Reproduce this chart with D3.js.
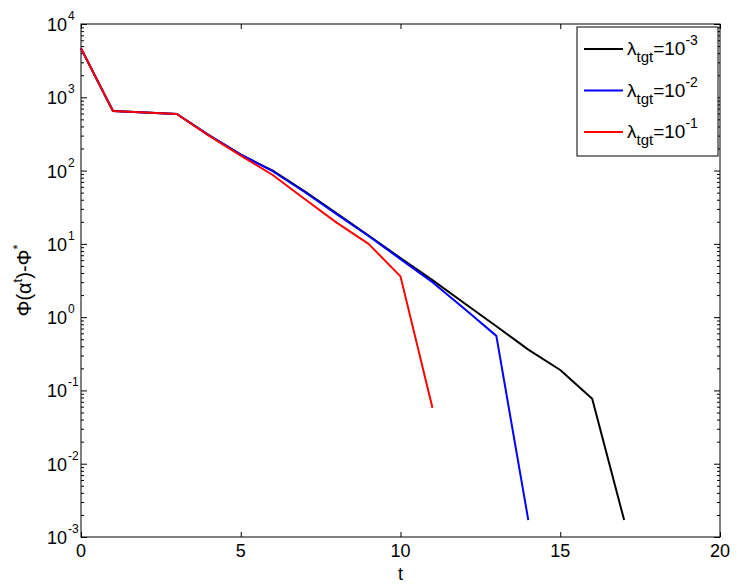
<!DOCTYPE html>
<html>
<head>
<meta charset="utf-8">
<script src="https://cdn.jsdelivr.net/npm/d3@7"></script>
<style>
  html, body { margin: 0; padding: 0; background: #fff; }
  svg { display: block; }
  text { font-family: "Liberation Sans", Arial, sans-serif; fill: #000; }
</style>
</head>
<body>
<svg id="chart" width="740" height="586"></svg>
<script>
// ---- data ----
const tBlack = [0,1,2,3,4,5,6,7,8,9,10,11,12,13,14,15,16,17];
const vBlack = [4650,650,620,592,305,165,100,52,26,13,6.4,3.2,1.55,0.75,0.36,0.19,0.077,0.0017];
const tBlue  = [0,1,2,3,4,5,6,7,8,9,10,11,12,13,14];
const vBlue  = [4650,650,620,592,305,165,98,51,25.5,12.8,6.2,3.0,1.3,0.555,0.0017];
const tRed   = [0,1,2,3,4,5,6,7,8,9,10,11];
const vRed   = [4650,650,620,592,300,160,87,41,19.5,10,3.6,0.058];
const seriesNames = ["-3","-2","-1"];
const seriesColors = ["#000000","#0000ff","#ff0000"];
const xTicks = [0,5,10,15,20];
const yExponents = [-3,-2,-1,0,1,2,3,4];

// ---- layout ----
const svg = d3.select("#chart");
const L = 81, R = 720, T = 24, B = 537;
const x = d3.scaleLinear().domain([0,20]).range([L,R]);
const y = d3.scaleLog().domain([1e-3,1e4]).range([B,T]);

const majors = yExponents.map(e => Math.pow(10,e));
const minors = [];
for (let e = -3; e < 4; e++) for (let k = 2; k <= 9; k++) minors.push(k*Math.pow(10,e));

// box
svg.append("rect").attr("x",L).attr("y",T).attr("width",R-L).attr("height",B-T)
  .attr("fill","#fff").attr("stroke","#000").attr("stroke-width",1);

function clean(g){ g.select(".domain").remove(); g.selectAll("line").attr("stroke","#000"); }

// x axis bottom & top (inward ticks)
svg.append("g").attr("transform",`translate(0,${B})`)
  .call(d3.axisBottom(x).tickValues(xTicks).tickSize(-5).tickFormat(""))
  .call(clean);
svg.append("g").attr("transform",`translate(0,${T})`)
  .call(d3.axisTop(x).tickValues(xTicks).tickSize(-5).tickFormat(""))
  .call(clean);
// y axis left & right major/minor
svg.append("g").attr("transform",`translate(${L},0)`)
  .call(d3.axisLeft(y).tickValues(majors).tickSize(-6).tickFormat("")).call(clean);
svg.append("g").attr("transform",`translate(${L},0)`)
  .call(d3.axisLeft(y).tickValues(minors).tickSize(-3).tickFormat("")).call(clean);
svg.append("g").attr("transform",`translate(${R},0)`)
  .call(d3.axisRight(y).tickValues(majors).tickSize(-6).tickFormat("")).call(clean);
svg.append("g").attr("transform",`translate(${R},0)`)
  .call(d3.axisRight(y).tickValues(minors).tickSize(-3).tickFormat("")).call(clean);

// x tick labels
svg.append("g").selectAll("text").data(xTicks).join("text")
  .attr("x", d => x(d)).attr("y", B + 20)
  .attr("text-anchor","middle").attr("font-size",18).text(d => d);

// y tick labels 10^e
svg.append("g").selectAll("text").data(yExponents).join("text")
  .attr("x", 67).attr("y", d => y(Math.pow(10,d)) + 7)
  .attr("text-anchor","end").attr("font-size",18).text("10");
svg.append("g").selectAll("text").data(yExponents).join("text")
  .attr("x", 68).attr("y", d => y(Math.pow(10,d)) - 4)
  .attr("text-anchor","start").attr("font-size",12).text(d => d);

// axis titles
svg.append("text").attr("x", (L+R)/2).attr("y", 580).attr("text-anchor","middle")
  .attr("font-size",18).text("t");
const yt = svg.append("text").attr("transform",`translate(31,${(T+B)/2}) rotate(-90)`)
  .attr("text-anchor","middle").attr("font-size",20);
yt.append("tspan").text("Φ(α");
yt.append("tspan").attr("font-size",13).attr("dy",-9).text("t");
yt.append("tspan").attr("dy",9).text(")-Φ");
yt.append("tspan").attr("font-size",13).attr("dy",-9).text("*");

// lines
const line = d3.line().x(d => x(d[0])).y(d => y(d[1]));
const data = [
  d3.zip(tBlack, vBlack),
  d3.zip(tBlue, vBlue),
  d3.zip(tRed, vRed)
];
svg.append("g").selectAll("path").data(data).join("path")
  .attr("d", line).attr("fill","none")
  .attr("stroke", (d,i) => seriesColors[i]).attr("stroke-width",2)
  .attr("stroke-linejoin","round");

// legend
const lg = svg.append("g");
lg.append("rect").attr("x",577).attr("y",27).attr("width",141).attr("height",129)
  .attr("fill","#fff").attr("stroke","#000").attr("stroke-width",1);
seriesNames.forEach((nm,i) => {
  const cy = 49 + i*41.5;
  lg.append("line").attr("x1",584).attr("x2",623).attr("y1",cy).attr("y2",cy)
    .attr("stroke",seriesColors[i]).attr("stroke-width",2);
  const t = lg.append("text").attr("x",627).attr("y",cy+6).attr("font-size",19);
  t.append("tspan").text("λ");
  t.append("tspan").attr("font-size",15).attr("dy",7).text("tgt");
  t.append("tspan").attr("dy",-7).text("=10");
  t.append("tspan").attr("font-size",14).attr("dy",-10).text(nm);
});
</script>
</body>
</html>
